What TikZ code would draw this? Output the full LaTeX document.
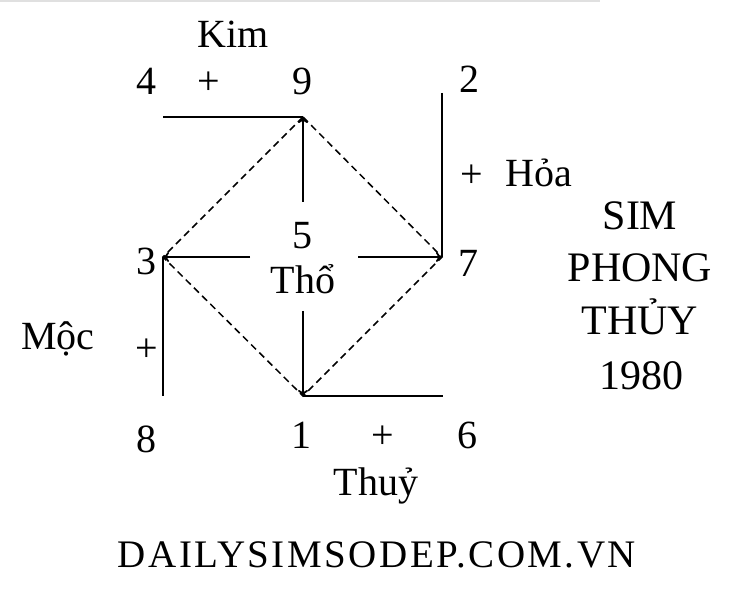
\documentclass[tikz,border=0pt]{standalone}
\usepackage{fontspec}
\setmainfont{Liberation Serif}
\newfontfamily\spaced[LetterSpace=6.4]{Liberation Serif}
\usetikzlibrary{arrows.meta}
\begin{document}
\begin{tikzpicture}[x=1pt,y=-1pt,
  txt/.style={font=\fontsize{40}{44}\selectfont, inner sep=0pt, anchor=base},
  fancy/.style={font=\fontsize{42}{46}\selectfont, inner sep=0pt, anchor=base},
  ln/.style={line width=1.8pt},
  dsh/.style={line width=1.5pt, dash pattern=on 7pt off 4.5pt},
  arr/.style={ln,-{To[length=6pt,width=10pt]}}]
\useasboundingbox (0,0) rectangle (756,596);
\draw[black!12, line width=1.5pt] (0,1) -- (600,1);
% vertices
\coordinate (v9) at (303,117);
\coordinate (v3) at (163,257);
\coordinate (v7) at (442,257);
\coordinate (v1) at (303,396);
\coordinate (tl) at (163,117);
\coordinate (tr) at (442,93);
\coordinate (bl) at (163,396);
\coordinate (br) at (443,396);
\coordinate (cu) at (303,202);
\coordinate (cl) at (250,257);
\coordinate (cr) at (358,257);
\coordinate (cd) at (303,311);
% solid lines
\draw[ln] (tl) -- (v9);
\draw[ln] (tr) -- (v7);
\draw[ln] (v3) -- (bl);
\draw[ln] (v1) -- (br);
% arrows from centre
\draw[arr] (cu) -- (v9);
\draw[arr] (cl) -- (v3);
\draw[arr] (cr) -- (v7);
\draw[arr] (cd) -- (v1);
% dashed diamond
\draw[dsh] (v9) -- (v7) -- (v1) -- (v3) -- cycle;
% labels
\node[txt] (kim) at (233,48) {Kim};
\node[txt] (n4) at (146,95) {4};
\node[txt] (p1) at (209,95) {+};
\node[txt] (n9) at (302,95) {9};
\node[txt] (n2) at (469,93) {2};
\node[txt] (p2) at (472,188) {+};
\node[txt] (hoa) at (539,187) {Hỏa};
\node[txt] (n5) at (302,249) {5};
\node[txt] (tho) at (303,294) {Thổ};
\node[txt] (n3) at (146,275) {3};
\node[txt] (n7) at (468,277) {7};
\node[txt] (moc) at (58,350) {Mộc};
\node[txt] (p3) at (147,362) {+};
\node[txt] (n8) at (146,453) {8};
\node[txt] (n1) at (301,448) {1};
\node[txt] (p4) at (383,448) {+};
\node[txt] (n6) at (467,448) {6};
\node[txt] (thuy) at (376,495) {Thuỷ};
% right title
\node[fancy] (s1) at (640,230) {SIM};
\node[fancy] (s2) at (640,282) {PHONG};
\node[fancy] (s3) at (640,335) {THỦY};
\node[fancy] (s4) at (641,390) {1980};
% footer
\node[inner sep=0pt, anchor=base, font=\spaced\fontsize{39}{42}\selectfont] (web) at (377,567) {DAILYSIMSODEP.COM.VN};
\end{tikzpicture}
\end{document}
